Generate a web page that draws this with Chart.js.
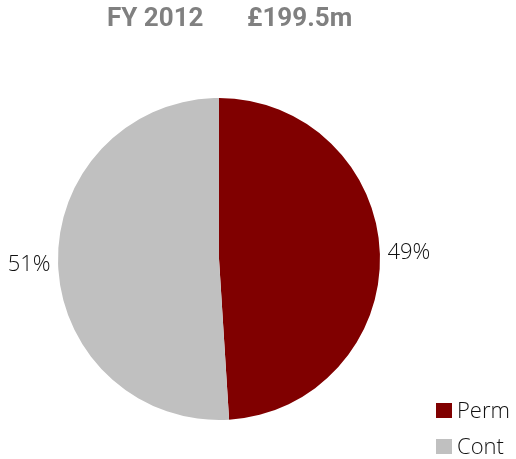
<!DOCTYPE html>
<html>
<head>
<meta charset="utf-8">
<title>FY 2012 revenue split</title>
<script src="https://cdn.jsdelivr.net/npm/chart.js@4"></script>
<style>
    html, body { margin: 0; padding: 0; background: #fff; }
    #chart { display: block; }
</style>
</head>
<body>
<canvas id="chart" width="516" height="459"></canvas>
<script>
const categories = ['Perm', 'Cont'];
const shares = [49, 51];
const sliceColors = ['#800000', '#C0C0C0'];
const periodLabel = 'FY 2012';
const totalLabel = '£199.5m';

const labelFont = '300 22px "Open Sans", Lato, sans-serif';

// heading, slice percentages and the legend, drawn straight on the canvas
const annotations = {
    id: 'annotations',
    afterDraw(chart) {
        const ctx = chart.ctx;
        const meta = chart.getDatasetMeta(0);

        ctx.save();

        ctx.fillStyle = '#808080';
        ctx.font = 'bold 26px Roboto, "Open Sans", sans-serif';
        ctx.textAlign = 'left';
        ctx.textBaseline = 'alphabetic';
        ctx.fillText(periodLabel, 107, 26);
        ctx.fillText(totalLabel, 247, 26);

        ctx.font = labelFont;
        ctx.fillStyle = '#111';
        ctx.textAlign = 'center';
        ctx.textBaseline = 'middle';
        meta.data.forEach((arc, i) => {
            const mid = (arc.startAngle + arc.endAngle) / 2;
            const r = arc.outerRadius + 29;
            const x = arc.x + Math.cos(mid) * r;
            const y = arc.y + Math.sin(mid) * r;
            ctx.fillText(shares[i] + '%', x, y);
        });

        ctx.textAlign = 'left';
        ctx.textBaseline = 'alphabetic';
        categories.forEach((name, i) => {
            const top = 403 + i * 36;
            ctx.fillStyle = sliceColors[i];
            ctx.fillRect(436, top, 16, 15);
            ctx.fillStyle = '#111';
            ctx.fillText(name, 457, top + 15);
        });

        ctx.restore();
    }
};

new Chart(document.getElementById('chart'), {
    type: 'pie',
    data: {
        labels: categories,
        datasets: [{
            data: shares,
            backgroundColor: sliceColors,
            borderWidth: 0,
        }],
    },
    options: {
        responsive: false,
        animation: false,
        layout: {
            padding: { left: 58, right: 136, top: 98, bottom: 39 },
        },
        plugins: {
            legend: { display: false },
            tooltip: { enabled: false },
            title: { display: false },
        },
    },
    plugins: [annotations],
});
</script>
</body>
</html>
